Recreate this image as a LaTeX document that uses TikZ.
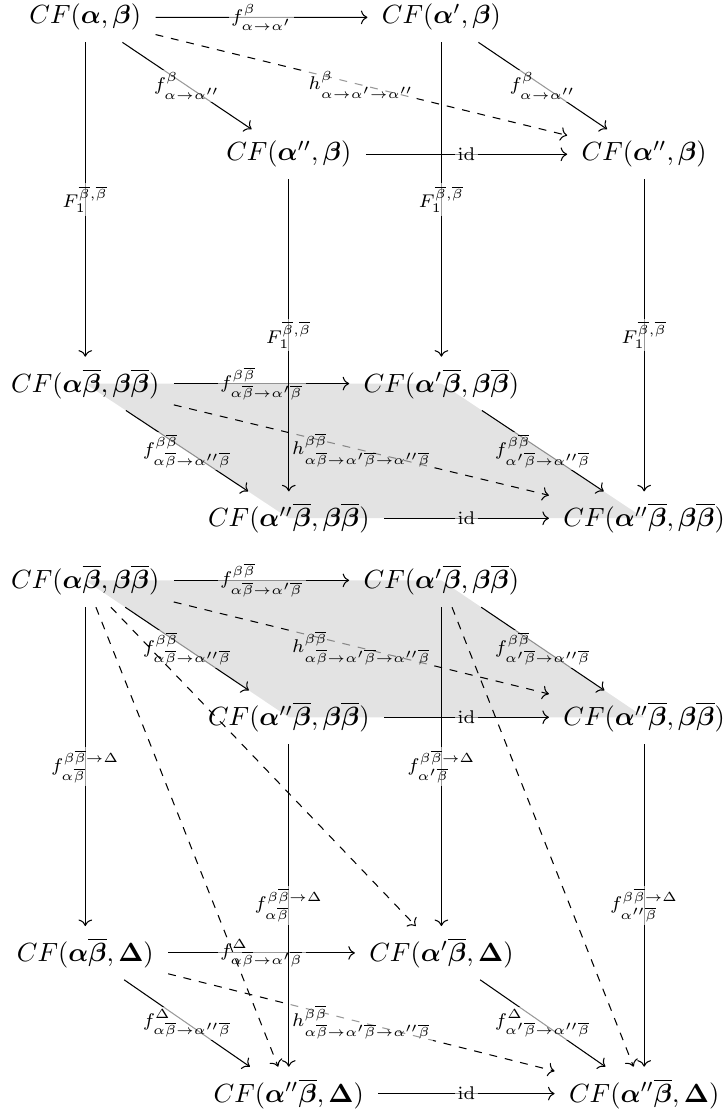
\documentclass[tikz,border=0pt]{standalone}
\usepackage{amsmath,amssymb,amsfonts}
\usepackage{tikz}
\usetikzlibrary{arrows.meta,positioning}

\newcommand{\bal}{\boldsymbol{\alpha}}
\newcommand{\bbe}{\boldsymbol{\beta}}
\newcommand{\bbo}{\overline{\boldsymbol{\beta}}}
\newcommand{\bDe}{\boldsymbol{\Delta}}
\newcommand{\obe}{\overline{\beta}}

\tikzset{
  cf node/.style={
    anchor=base,
    inner xsep=5.5pt,
    inner ysep=4.5pt,
    outer sep=0pt
  }
}
\tikzset{
  morphism/.style={
    -{Computer Modern Rightarrow},
    draw=black,
    line width=0.4pt
  }
}
\tikzset{
  homotopy/.style={
    morphism,
    dash pattern=on 3pt off 3pt
  }
}
\tikzset{
  morphism label/.style={
    fill=white,
    fill opacity=0.6,
    text opacity=1,
    inner sep=1pt,
    font=\scriptsize
  }
}
\tikzset{
  face/.style={
    fill=black,
    fill opacity=0.11,
    draw=none
  }
}

\begin{document}
\begin{tikzpicture}

    \useasboundingbox (0,0) rectangle (9.68,-14.97);

    % ------------------------------------------------------------
    % Upper cube: nodes
    % ------------------------------------------------------------

    \node[cf node] (tA) at (1.14,-0.32) {$CF(\bal,\bbe)$};
    \node[cf node] (tAp) at (5.90,-0.32) {$CF(\bal',\bbe)$};
    \node[cf node] (tApp) at (3.86,-2.15) {$CF(\bal'',\bbe)$};
    \node[cf node] (tAppR) at (8.61,-2.15) {$CF(\bal'',\bbe)$};

    \node[cf node] (tB) at (1.14,-5.24) {$CF(\bal\bbo,\bbe\bbo)$};
    \node[cf node] (tBp) at (5.90,-5.24) {$CF(\bal'\bbo,\bbe\bbo)$};
    \node[cf node] (tBpp) at (3.86,-7.04) {$CF(\bal''\bbo,\bbe\bbo)$};
    \node[cf node] (tBppR) at (8.61,-7.04) {$CF(\bal''\bbo,\bbe\bbo)$};

    % ------------------------------------------------------------
    % Upper cube: horizontal faces
    % ------------------------------------------------------------

    \draw[morphism]
      (tA) -- node[morphism label] {$f^{\beta}_{\alpha\to\alpha'}$} (tAp);
    \draw[morphism]
      (tA) -- node[morphism label] {$f^{\beta}_{\alpha\to\alpha''}$} (tApp);
    \draw[homotopy]
      (tA) -- node[morphism label] {$h^{\beta}_{\alpha\to\alpha'\to\alpha''}$} (tAppR);
    \draw[morphism]
      (tAp) -- node[morphism label] {$f^{\beta}_{\alpha\to\alpha''}$} (tAppR);
    \draw[morphism]
      (tApp) -- node[morphism label] {$\mathrm{id}$} (tAppR);

    \draw[morphism]
      (tB) -- node[morphism label] {$f^{\beta\obe}_{\alpha\obe\to\alpha'\obe}$} (tBp);
    \draw[morphism]
      (tB) -- node[morphism label] {$f^{\beta\obe}_{\alpha\obe\to\alpha''\obe}$} (tBpp);
    \draw[homotopy]
      (tB) -- node[morphism label] {$h^{\beta\obe}_{\alpha\obe\to\alpha'\obe\to\alpha''\obe}$} (tBppR);
    \draw[morphism]
      (tBp) -- node[morphism label] {$f^{\beta\obe}_{\alpha'\obe\to\alpha''\obe}$} (tBppR);
    \draw[morphism]
      (tBpp) -- node[morphism label] {$\mathrm{id}$} (tBppR);

    % ------------------------------------------------------------
    % Upper cube: vertical maps
    % ------------------------------------------------------------

    \draw[morphism]
      (tA) -- node[morphism label] {$F_1^{\obe,\obe}$} (tB);
    \draw[morphism]
      (tAp) -- node[morphism label] {$F_1^{\obe,\obe}$} (tBp);
    \draw[morphism]
      (tApp) -- node[morphism label] {$F_1^{\obe,\obe}$} (tBpp);
    \draw[morphism]
      (tAppR) -- node[morphism label] {$F_1^{\obe,\obe}$} (tBppR);

    % Shaded face, laid over the maps
    \fill[face] (tB.center) -- (tBp.center) -- (tBppR.center) -- (tBpp.center) -- cycle;

    % ------------------------------------------------------------
    % Lower cube: nodes
    % ------------------------------------------------------------

    \node[cf node] (bA) at (1.14,-7.87) {$CF(\bal\bbo,\bbe\bbo)$};
    \node[cf node] (bAp) at (5.90,-7.87) {$CF(\bal'\bbo,\bbe\bbo)$};
    \node[cf node] (bApp) at (3.86,-9.70) {$CF(\bal''\bbo,\bbe\bbo)$};
    \node[cf node] (bAppR) at (8.61,-9.70) {$CF(\bal''\bbo,\bbe\bbo)$};

    \node[cf node] (bD) at (1.14,-12.85) {$CF(\bal\bbo,\bDe)$};
    \node[cf node] (bDp) at (5.90,-12.85) {$CF(\bal'\bbo,\bDe)$};
    \node[cf node] (bDpp) at (3.86,-14.73) {$CF(\bal''\bbo,\bDe)$};
    \node[cf node] (bDppR) at (8.61,-14.73) {$CF(\bal''\bbo,\bDe)$};

    % ------------------------------------------------------------
    % Lower cube: horizontal faces
    % ------------------------------------------------------------

    \draw[morphism]
      (bA) -- node[morphism label] {$f^{\beta\obe}_{\alpha\obe\to\alpha'\obe}$} (bAp);
    \draw[morphism]
      (bA) -- node[morphism label] {$f^{\beta\obe}_{\alpha\obe\to\alpha''\obe}$} (bApp);
    \draw[homotopy]
      (bA) -- node[morphism label] {$h^{\beta\obe}_{\alpha\obe\to\alpha'\obe\to\alpha''\obe}$} (bAppR);
    \draw[morphism]
      (bAp) -- node[morphism label] {$f^{\beta\obe}_{\alpha'\obe\to\alpha''\obe}$} (bAppR);
    \draw[morphism]
      (bApp) -- node[morphism label] {$\mathrm{id}$} (bAppR);

    \draw[morphism]
      (bD) -- node[morphism label] {$f^{\Delta}_{\alpha\obe\to\alpha'\obe}$} (bDp);
    \draw[morphism]
      (bD) -- node[morphism label] {$f^{\Delta}_{\alpha\obe\to\alpha''\obe}$} (bDpp);
    \draw[homotopy]
      (bD) -- node[morphism label] {$h^{\beta\obe}_{\alpha\obe\to\alpha'\obe\to\alpha''\obe}$} (bDppR);
    \draw[morphism]
      (bDp) -- node[morphism label] {$f^{\Delta}_{\alpha'\obe\to\alpha''\obe}$} (bDppR);
    \draw[morphism]
      (bDpp) -- node[morphism label] {$\mathrm{id}$} (bDppR);

    % ------------------------------------------------------------
    % Lower cube: vertical maps and diagonals
    % ------------------------------------------------------------

    \draw[homotopy] (bA) -- (bDp);
    \draw[homotopy] (bA) -- (bDpp);
    \draw[homotopy] (bAp) -- (bDppR);

    \draw[morphism]
      (bA) -- node[morphism label] {$f^{\beta\obe\to\Delta}_{\alpha\obe}$} (bD);
    \draw[morphism]
      (bAp) -- node[morphism label] {$f^{\beta\obe\to\Delta}_{\alpha'\obe}$} (bDp);
    \draw[morphism]
      (bApp) -- node[morphism label] {$f^{\beta\obe\to\Delta}_{\alpha\obe}$} (bDpp);
    \draw[morphism]
      (bAppR) -- node[morphism label] {$f^{\beta\obe\to\Delta}_{\alpha''\obe}$} (bDppR);

    % Shaded face, laid over the maps
    \fill[face] (bA.center) -- (bAp.center) -- (bAppR.center) -- (bApp.center) -- cycle;

\end{tikzpicture}
\end{document}
